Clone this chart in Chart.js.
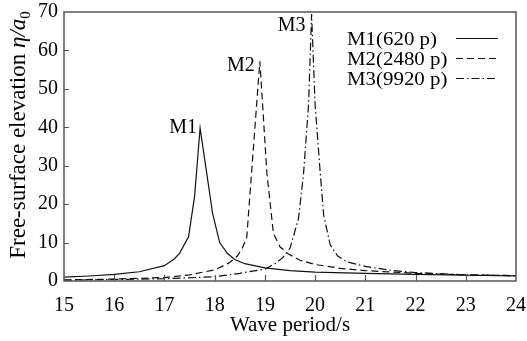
<!DOCTYPE html>
<html>
<head>
<meta charset="utf-8">
<script src="https://cdn.jsdelivr.net/npm/chart.js@4.4.1/dist/chart.umd.min.js"></script>
<style>
html,body{margin:0;padding:0;background:#fff;}
#wrap{width:527px;height:341px;}
</style>
</head>
<body>
<div id="wrap"><canvas id="c" width="527" height="341"></canvas></div>
<script>
// ---- data ----
const xTicks = [15, 16, 17, 18, 19, 20, 21, 22, 23, 24];
const yTicks = [0, 10, 20, 30, 40, 50, 60, 70];
const seriesNames = ['M1(620 p)', 'M2(2480 p)', 'M3(9920 p)'];
const peakNames = ['M1', 'M2', 'M3'];

const m1Period = [15, 15.5, 16, 16.5, 17, 17.2, 17.3, 17.48, 17.6, 17.71, 17.96, 18.1, 18.25, 18.4, 18.6, 19, 19.5, 20, 21, 22, 23, 24];
const m1Elev   = [1.0, 1.3, 1.7, 2.4, 4.0, 5.8, 7.2, 11.5, 22, 39.8, 17.5, 10, 7.2, 5.6, 4.5, 3.4, 2.7, 2.3, 2.0, 1.7, 1.5, 1.35];

const m2Period = [15, 16, 17, 17.5, 18, 18.3, 18.45, 18.55, 18.64, 18.9, 19.04, 19.17, 19.3, 19.47, 19.7, 20, 20.5, 21, 22, 23, 24];
const m2Elev   = [0.3, 0.5, 0.9, 1.6, 2.9, 4.8, 6.5, 8.5, 11.5, 57.2, 28, 12.4, 8.9, 7.0, 5.4, 4.3, 3.3, 2.7, 2.0, 1.6, 1.4];

const m3Period = [15, 16, 17, 18, 18.5, 19, 19.2, 19.35, 19.5, 19.67, 19.77, 19.87, 19.93, 20.0, 20.1, 20.17, 20.3, 20.45, 20.63, 21, 21.5, 22, 23, 24];
const m3Elev   = [0.2, 0.4, 0.6, 1.1, 2.0, 3.1, 4.5, 6.0, 8.5, 16.3, 28, 46, 69.5, 45.8, 28.5, 17.2, 9.4, 6.5, 5.0, 3.8, 2.8, 2.2, 1.6, 1.4];

// ---- styles ----
const SERIF = '"Liberation Serif", "Times New Roman", serif';
const dashes = [[], [7, 4], [8, 3, 1.5, 3]];
const peakLabelOffsets = [[-3, 5], [-5, 10], [-6, 17]];

function pts(xs, ys) { return xs.map((x, i) => ({x: x, y: ys[i]})); }

function noPad(s) { s.paddingLeft = 0; s.paddingRight = 0; s.paddingTop = 0; s.paddingBottom = 0; }

const frameTicks = {
  id: 'frameTicks',
  afterDatasetsDraw(chart) {
    const {ctx, chartArea: a, scales: {x, y}} = chart;
    ctx.save();
    ctx.strokeStyle = '#555';
    ctx.lineWidth = 1.5;
    ctx.strokeRect(a.left, a.top, a.right - a.left, a.bottom - a.top);
    ctx.lineWidth = 1.2;
    ctx.beginPath();
    xTicks.slice(1, -1).forEach(v => {
      const px = Math.round(x.getPixelForValue(v)) + 0.5;
      ctx.moveTo(px, a.bottom); ctx.lineTo(px, a.bottom - 6);
    });
    yTicks.slice(1, -1).forEach(v => {
      const py = Math.round(y.getPixelForValue(v)) + 0.5;
      ctx.moveTo(a.left, py); ctx.lineTo(a.left + 5, py);
    });
    ctx.stroke();
    ctx.restore();
  }
};

const annotations = {
  id: 'annotations',
  afterDraw(chart) {
    const {ctx} = chart;
    ctx.save();
    ctx.fillStyle = '#000';
    // peak labels
    ctx.font = '20px ' + SERIF;
    ctx.textAlign = 'right';
    ctx.textBaseline = 'alphabetic';
    chart.data.datasets.forEach((ds, i) => {
      const meta = chart.getDatasetMeta(i);
      let best = 0;
      ds.data.forEach((p, j) => { if (p.y > ds.data[best].y) best = j; });
      const el = meta.data[best];
      ctx.fillText(peakNames[i], el.x + peakLabelOffsets[i][0], el.y + peakLabelOffsets[i][1]);
    });
    // legend
    ctx.font = '19px ' + SERIF;
    ctx.textAlign = 'left';
    chart.data.datasets.forEach((ds, i) => {
      const base = 45 + i * 20;
      ctx.save();
      ctx.translate(347, base);
      ctx.scale(1.1, 1);
      ctx.fillText(seriesNames[i], 0, 0);
      ctx.restore();
      ctx.save();
      ctx.strokeStyle = '#111';
      ctx.lineWidth = 1.2;
      ctx.setLineDash(dashes[i]);
      ctx.beginPath();
      ctx.moveTo(456, base - 6.5);
      ctx.lineTo(498, base - 6.5);
      ctx.stroke();
      ctx.restore();
    });
    // y axis title with italic and subscript
    const parts = [
      {t: 'Free-surface elevation ', f: '23px ' + SERIF, dy: 0},
      {t: 'η/a', f: 'italic 23px ' + SERIF, dy: 0},
      {t: '0', f: '15px ' + SERIF, dy: 5}
    ];
    let total = 0;
    parts.forEach(p => { ctx.font = p.f; p.w = ctx.measureText(p.t).width; total += p.w; });
    const cy = 135;
    ctx.translate(25, cy + total / 2);
    ctx.rotate(-Math.PI / 2);
    let xx = 0;
    parts.forEach(p => { ctx.font = p.f; ctx.fillText(p.t, xx, p.dy); xx += p.w; });
    ctx.restore();
  }
};

new Chart(document.getElementById('c'), {
  type: 'line',
  data: {
    datasets: [m1Period, m2Period, m3Period].map((xs, i) => ({
      label: seriesNames[i],
      data: pts(xs, [m1Elev, m2Elev, m3Elev][i]),
      borderColor: '#111',
      borderWidth: 1.2,
      borderDash: dashes[i],
      pointRadius: 0,
      tension: 0,
      fill: false
    }))
  },
  options: {
    responsive: false,
    animation: false,
    devicePixelRatio: 1,
    layout: {padding: {left: 0, right: 11, top: 12, bottom: 0}},
    plugins: {legend: {display: false}, tooltip: {enabled: false}},
    scales: {
      x: {
        type: 'linear',
        min: xTicks[0], max: xTicks[xTicks.length - 1],
        afterFit(s) { s.height = 60; noPad(s); },
        afterBuildTicks(s) { s.ticks = xTicks.map(v => ({value: v})); },
        ticks: {color: '#000', font: {family: SERIF, size: 20}, padding: 13, maxRotation: 0, autoSkip: false},
        grid: {display: false, drawTicks: false},
        border: {display: false},
        title: {display: true, text: 'Wave period/s', color: '#000', font: {family: SERIF, size: 21}, padding: {top: 0, bottom: 3}}
      },
      y: {
        min: yTicks[0], max: yTicks[yTicks.length - 1],
        afterFit(s) { s.width = 64; noPad(s); },
        afterBuildTicks(s) { s.ticks = yTicks.map(v => ({value: v})); },
        ticks: {color: '#000', font: {family: SERIF, size: 20}, padding: 6},
        grid: {display: false, drawTicks: false},
        border: {display: false}
      }
    }
  },
  plugins: [frameTicks, annotations]
});
</script>
</body>
</html>
